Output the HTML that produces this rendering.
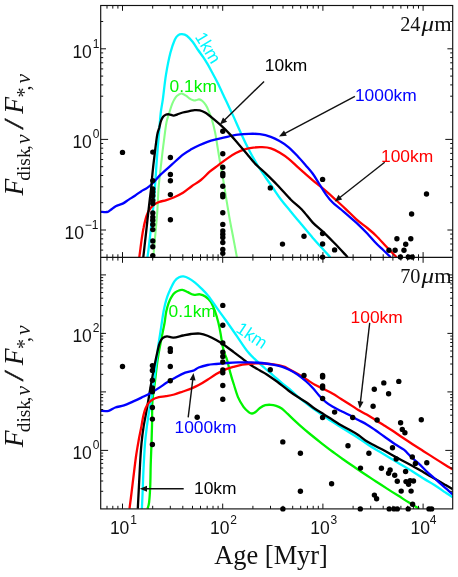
<!DOCTYPE html>
<html><head><meta charset="utf-8"><title>Flux ratio vs age</title>
<style>.sa{font-family:"Liberation Sans",sans-serif}.se{font-family:"Liberation Serif",serif}html,body{margin:0;padding:0;background:#fff;}body{width:458px;height:577px;position:relative;overflow:hidden;font-family:"Liberation Sans",sans-serif;}</style>
</head><body>
<svg width="458" height="577" viewBox="0 0 458 577" style="position:absolute;left:0;top:0;will-change:transform">
<defs><clipPath id="ct"><rect x="100.7" y="5.5" width="352" height="251.9"/></clipPath>
<clipPath id="cb"><rect x="100.7" y="257.4" width="352" height="251.5"/></clipPath></defs>
<rect x="0" y="0" width="458" height="577" fill="#fff"/>
<g clip-path="url(#ct)">
<path d="M153.3,257.2C153.7,253.1 154.8,240 155.5,232.4C156.2,224.8 156.8,218.7 157.3,211.4C157.8,204.1 158.1,194.9 158.5,188.7C158.9,182.5 159.4,179.9 160,174.2C160.6,168.5 161.5,160.8 162.2,154.6C162.9,148.4 163.7,142.6 164.4,137.1C165.1,131.6 165.8,125.8 166.6,121.8C167.4,117.8 168.4,115.8 169.3,112.8C170.2,109.8 171.2,106.2 172.3,103.6C173.4,101 174.7,98.7 175.8,97.2C176.9,95.7 178,95.1 179,94.5C180,93.9 180.8,93.4 182,93.6C183.2,93.8 184.8,94.9 186,95.7C187.2,96.5 188.1,97.5 189.3,98.3C190.5,99.1 192.2,100 193.3,100.3C194.4,100.6 194.9,100.4 195.9,100.3C196.9,100.2 198,99.3 199.1,99.4C200.2,99.5 201.3,100.1 202.4,101C203.5,101.9 204.7,103.4 205.7,104.9C206.7,106.4 207.3,107.7 208.3,110.1C209.3,112.5 210.7,115.6 211.8,119.3C212.9,123 214.2,128 215.1,132.4C216,136.8 216.6,141.1 217.3,145.5C218,149.9 218.6,153.7 219.5,159C220.4,164.3 221.7,171.2 222.8,177.5C223.9,183.8 224.9,190.5 226,197.1C227.1,203.7 228.2,210.6 229.3,216.8C230.4,223 231.3,227.6 232.6,234.3C233.9,241 236.2,253.4 236.9,257.2" fill="none" stroke="#86ff86" stroke-width="2.1" stroke-linejoin="round" />
<path d="M147.5,257.2C147.7,255.4 148.4,250.8 148.9,246.4C149.4,242 150.1,235.9 150.7,230.7C151.3,225.5 151.8,220.2 152.4,215C153,209.8 153.6,205.6 154.1,199.2C154.6,192.8 155.2,183.8 155.7,176.4C156.2,169 156.6,161.9 157.2,154.6C157.8,147.3 158.4,139.7 159,132.8C159.6,125.9 160.1,118.6 160.7,113.1C161.3,107.6 161.9,106.1 162.8,99.7C163.7,93.3 164.7,82.4 166,74.6C167.3,66.8 168.9,58.6 170.4,52.8C171.9,47 173.5,42.6 174.8,39.7C176.1,36.8 176.8,36.2 178,35.3C179.2,34.4 180.5,34.1 182,34.2C183.5,34.3 185,34.4 186.8,35.7C188.6,37 190.7,39.4 192.6,41.8C194.5,44.2 196.3,47.4 198.1,50C199.9,52.6 201.6,54.8 203.2,57.2C204.8,59.6 206,61.5 207.6,64.2C209.2,66.9 210.9,70.2 212.6,73.3C214.3,76.4 215.7,78.9 217.6,82.8C219.5,86.7 221.9,91.9 224,96.4C226.1,100.9 228.8,106.5 230.4,110C232,113.5 232,113.1 233.8,117.1C235.6,121.1 238.8,128.5 241.3,134C243.8,139.5 246.3,144.8 249,150C251.7,155.2 255,161 257.7,165.5C260.4,170 262.8,173.2 265.3,177C267.9,180.8 270.3,184.1 273,188C275.7,191.9 278.7,196.6 281.7,200.5C284.7,204.4 287.5,207.6 290.9,211.7C294.2,215.8 298.1,220.4 301.8,224.8C305.5,229.2 309.2,233.7 312.8,237.9C316.4,242.1 320.8,246.7 323.7,249.9C326.6,253.1 329.1,256 330.2,257.2" fill="none" stroke="#00f6ff" stroke-width="2.3" stroke-linejoin="round" />
<path d="M139.3,257.2C139.5,255.7 140.1,251.4 140.5,248.1C140.9,244.8 141.4,241.1 141.9,237.6C142.4,234.1 143,230.4 143.7,227.2C144.3,224 145.1,220.9 145.8,218.4C146.5,215.9 147.2,214 148,212.3C148.8,210.6 149.7,209.3 150.7,208C151.7,206.7 152.6,205.5 154.1,204.5C155.6,203.5 157.3,202.5 159.4,201.8C161.5,201.1 163.9,200.9 166.4,200.1C168.9,199.3 171.4,198.4 174.2,197.2C177,196 180.1,194.6 183,192.8C185.9,191 188.7,188.3 191.7,186.2C194.7,184.1 197.9,182.4 200.9,180C203.9,177.6 206.8,174.2 209.7,171.7C212.6,169.2 215.5,167.4 218.4,165.2C221.3,163 224.2,160.6 227.1,158.6C230,156.6 233,154.6 235.9,153.1C238.8,151.6 241.7,150.3 244.6,149.4C247.5,148.5 250.4,148 253.3,147.6C256.2,147.2 259.2,147.1 262.1,147.2C265,147.3 267.9,147.4 270.8,148.3C273.7,149.2 276.5,150.8 279.5,152.6C282.5,154.4 285.7,156.5 288.7,158.9C291.7,161.3 294.6,164.3 297.5,166.9C300.4,169.5 303.3,172.1 306.2,174.6C309.1,177.1 312,179.8 314.9,182.2C317.8,184.6 320.4,186.4 323.7,189.2C327,192 331,195.5 334.6,198.8C338.2,202.1 341.9,205.4 345.5,208.8C349.1,212.2 352.8,216.1 356.4,219.3C360,222.5 364,225.3 367.3,228C370.6,230.7 373,232.6 376.1,235.7C379.2,238.8 382.8,242.9 386.2,246.5C389.6,250.1 394.8,255.4 396.5,257.2" fill="none" stroke="#ff0000" stroke-width="2.3" stroke-linejoin="round" />
<path d="M100.6,211.8C101.7,211.8 105.3,212.3 107,212C108.7,211.7 109,211 110.5,210C112,209 113.7,207.3 115.7,206.2C117.7,205.1 120.5,204.7 122.7,203.6C124.9,202.5 126.8,200.9 128.8,199.6C130.8,198.3 132.9,197.1 134.9,195.7C136.9,194.3 138.9,192.7 141,191.4C143.1,190.1 145.3,189.2 147.2,187.9C149.1,186.6 150.1,185.8 152.4,183.5C154.7,181.2 157.8,177.4 161.1,174.2C164.4,171 168.3,167.7 172,164.4C175.7,161.1 179.7,157.2 183,154.6C186.3,152 189.1,150.6 191.7,149.1C194.3,147.6 196.1,146.7 198.7,145.5C201.3,144.3 204.6,142.8 207.5,141.8C210.4,140.8 212.9,140.2 216.2,139.4C219.5,138.6 223.5,137.6 227.1,136.8C230.7,136 234.3,135.2 238,134.7C241.7,134.2 245.3,133.9 249,133.8C252.7,133.7 256.3,133.6 259.9,134.1C263.5,134.6 267.5,135.6 270.8,136.8C274.1,138 276.5,139.3 279.5,141.1C282.5,142.8 285.7,144.8 288.7,147.3C291.7,149.8 294.6,152.9 297.5,156C300.4,159.1 303.6,162.9 306.2,165.9C308.8,168.9 310.6,170.8 312.8,173.8C315,176.8 317.1,180.6 319.3,184C321.5,187.4 323.7,191.2 325.9,194.3C328.1,197.4 329.9,199.8 332.4,202.3C334.9,204.8 338.2,207 341.1,209.5C344,212 347,214.5 349.9,217.1C352.8,219.7 355.7,222.1 358.6,224.8C361.5,227.5 364.4,230.4 367.3,233.5C370.2,236.6 373.5,240.6 376.1,243.3C378.8,246.1 380.8,247.7 383.2,250C385.6,252.3 389.4,256 390.6,257.2" fill="none" stroke="#0000ff" stroke-width="2.3" stroke-linejoin="round" />
<path d="M143.3,257.2C143.5,255.4 144,250.8 144.5,246.4C145,242 145.7,235.9 146.3,230.7C146.9,225.4 147.4,220.2 148,214.9C148.6,209.7 149.2,204.1 149.8,199.2C150.4,194.2 151.1,189.4 151.5,185.2C151.9,181 151.9,179.3 152.4,174.2C152.9,169.1 153.8,161.1 154.6,154.6C155.4,148.1 156.4,139.3 157.2,134.9C158,130.5 158.5,130.4 159.2,128C159.8,125.6 160.4,122.5 161.1,120.6C161.8,118.7 162.3,117.7 163.1,116.7C163.9,115.7 164.7,115.1 165.7,114.7C166.7,114.3 167.7,114.2 169,114.3C170.3,114.4 172.2,115.6 173.6,115.6C175,115.6 176,114.8 177.5,114.3C179,113.8 180.8,113 182.8,112.5C184.8,112 187.3,111.6 189.3,111.2C191.3,110.8 192.8,110.2 194.6,110.1C196.3,110 198.1,110 199.8,110.4C201.5,110.8 202.9,111.3 205,112.5C207.1,113.7 209.5,115.6 212.2,117.8C214.9,120 218.1,122.7 221,125.4C223.9,128.1 226.9,131 229.8,134.1C232.7,137.2 235.5,140.6 238.4,143.9C241.3,147.2 244.2,150.6 247,154C249.8,157.4 252.6,161.1 255.5,164.1C258.4,167.1 260.6,168.5 264.2,172C267.8,175.5 272.9,180.4 277.3,185C281.8,189.6 286.8,195.6 290.9,199.7C295,203.8 298.1,205.7 301.8,209.5C305.5,213.3 309.2,218.8 312.8,222.6C316.4,226.4 320.1,228.9 323.7,232.4C327.3,235.9 330.6,239.2 334.6,243.3C338.6,247.4 345.5,254.9 347.7,257.2" fill="none" stroke="#000" stroke-width="2.3" stroke-linejoin="round" />
</g>
<g clip-path="url(#cb)">
<path d="M147.6,508.7C147.8,507.6 148.7,505.9 149.1,502.3C149.5,498.7 149.9,493.2 150.2,487C150.5,480.8 150.5,472.5 150.7,465.2C150.9,457.9 151.3,449.9 151.5,443.4C151.7,436.8 151.8,432.8 152,425.9C152.2,419 152,408.9 152.4,402C152.8,395.1 153.8,391.1 154.6,384.6C155.4,378.1 156.3,369.4 157.2,362.8C158.1,356.2 159.3,349.9 160.2,345C161.1,340.1 161.7,337.4 162.4,333.7C163.1,330 164,326.4 164.6,322.8C165.2,319.2 165.5,315.1 166.2,311.8C166.9,308.5 167.7,305.6 168.6,303.1C169.5,300.6 170.6,298.3 171.7,296.6C172.8,294.9 173.8,293.7 174.9,292.7C176,291.7 176.9,291.2 178.2,290.7C179.4,290.2 180.8,289.7 182.4,289.9C184,290.1 186.1,291.3 187.9,292.1C189.7,292.9 191.3,294.3 193.3,294.7C195.3,295.1 197.9,294 199.9,294.3C201.9,294.6 203.5,295.2 205.3,296.5C207.1,297.8 209.2,299.3 210.8,301.9C212.5,304.4 213.9,308.3 215.2,311.8C216.5,315.3 217.5,319.1 218.4,322.7C219.3,326.3 219.9,329.6 220.6,333.6C221.3,337.6 222.1,343.3 222.8,346.7C223.5,350.1 224.2,352 224.9,354.2C225.6,356.4 226.2,356.9 227.1,360C228,363.1 229.3,369.1 230.4,373.1C231.5,377.1 232.4,380 233.7,384C235,388 236.4,393.3 238,397.1C239.6,400.9 241.7,404.3 243.5,406.9C245.3,409.4 247.6,411.3 249,412.4C250.4,413.5 251.1,413.6 252.2,413.5C253.3,413.4 254.2,412.9 255.5,412C256.8,411.1 258.3,409.1 259.9,408C261.5,406.9 263.5,405.7 265.3,405.2C267.1,404.7 269,404.7 270.8,404.8C272.6,404.9 274.4,405.3 276.2,405.9C278,406.5 279.7,407.1 281.7,408.5C283.7,409.9 285.1,411.5 288,414.2C290.9,416.9 295.3,421.3 299,424.6C302.7,427.9 306.3,431 310,434C313.7,437 317.3,439.9 321,442.8C324.7,445.7 328.3,448.5 332,451.2C335.7,453.9 339.3,456.6 343,459.2C346.7,461.8 350.3,464.3 354,466.8C357.7,469.3 361.3,471.8 365,474.2C368.7,476.6 372.3,479.1 376,481.5C379.7,483.9 383.3,486.2 387,488.6C390.7,491 394.3,493.3 398,495.6C401.7,497.9 405.4,500.4 409,502.6C412.6,504.8 417.7,507.9 419.4,509" fill="none" stroke="#00f400" stroke-width="2.3" stroke-linejoin="round" />
<path d="M141.9,508.7C142.1,505.1 142.5,494.2 142.8,487C143.1,479.8 143.3,472.5 143.7,465.2C144.1,457.9 144.5,449.6 145,443.4C145.5,437.2 146.1,432.7 146.7,428C147.3,423.3 147.9,418.8 148.5,415C149.1,411.2 149.4,410.1 150.2,405C151,399.9 152.5,391.6 153.5,384.6C154.5,377.6 155.5,369.4 156.3,362.8C157.1,356.2 157.5,351.3 158.4,345C159.3,338.7 160.7,330.4 161.5,324.9C162.3,319.4 162.9,315.2 163.5,311.8C164.1,308.4 164.5,306.7 165.1,304.2C165.7,301.7 166.5,299 167.3,296.6C168.1,294.2 168.9,292.5 170.1,289.9C171.3,287.3 173.1,283.3 174.6,281.2C176.1,279.1 177.6,278.1 179.1,277.3C180.6,276.5 181.8,276.2 183.5,276.4C185.2,276.6 187.1,277.4 189,278.4C190.9,279.4 192.9,280.9 195,282.6C197.1,284.3 199.3,286.4 201.5,288.6C203.7,290.8 205.5,292.5 208.1,295.7C210.7,298.9 213.9,303.8 216.8,307.9C219.7,311.9 222.2,315.2 225.6,320C229,324.8 233.5,331.2 237.2,336.6C240.9,342 244.5,347.8 248,352.1C251.5,356.4 255.5,359.8 258.3,362.4C261.1,365 262.2,365.9 264.6,368C267.1,370.1 270.1,372.8 273,375.3C275.9,377.8 278.9,380.5 281.7,382.9C284.5,385.3 287.4,387.3 290,389.5C292.6,391.7 294.8,394 297.5,396.3C300.2,398.6 303.3,401 306.2,403.3C309.1,405.6 312,407.8 314.9,409.9C317.8,412 320.8,414 323.7,416C326.6,418 329.5,420 332.4,421.9C335.3,423.8 338.2,425.5 341.1,427.3C344,429.1 347,431 349.9,432.8C352.8,434.6 355.4,436.1 358.6,438.2C361.8,440.3 365.4,443 368.9,445.3C372.4,447.6 376.1,449.6 379.8,451.8C383.5,454 387.2,456.2 390.8,458.4C394.4,460.6 398.1,462.7 401.7,464.9C405.3,467.1 409,469.2 412.6,471.5C416.2,473.8 419.9,476.2 423.5,478.5C427.1,480.8 430.8,482.7 434.4,485C438,487.3 442.2,490.3 445.3,492.4C448.4,494.4 451.6,496.5 452.8,497.3" fill="none" stroke="#00f6ff" stroke-width="2.3" stroke-linejoin="round" />
<path d="M137.8,508.7C138,505.1 138.5,494.2 138.9,487C139.3,479.8 139.6,472.5 140,465.2C140.4,457.9 140.9,449.9 141.5,443.4C142.1,436.8 142.8,431.7 143.7,425.9C144.6,420.1 145.8,415.1 146.9,408.6C148.1,402.1 149.4,393.7 150.6,386.8C151.8,379.9 153,373.3 154.2,367.1C155.4,360.9 157,353.8 157.9,349.7C158.8,345.6 159,344.5 159.8,342.6C160.6,340.7 161.4,339.1 162.6,338.1C163.8,337.1 165.2,336.5 167,336.4C168.8,336.3 170.8,337.8 173.5,337.6C176.2,337.5 180.1,336.1 183,335.5C185.9,334.9 188.3,334.3 191.1,334C193.9,333.7 197.2,333.3 199.9,333.6C202.6,333.9 204.8,334.6 207.5,335.7C210.2,336.8 213.3,338.4 216.2,340C219.1,341.6 222,343.5 224.9,345.5C227.8,347.5 230.8,349.9 233.7,352.1C236.6,354.3 239.5,356.4 242.4,358.6C245.3,360.8 248.2,363.2 251.1,365.2C254,367.2 257.3,369 259.9,370.5C262.4,372 263.5,372.3 266.4,374.2C269.3,376.1 273.6,379.1 277.3,381.8C281,384.6 285.3,388.2 288.7,390.7C292.1,393.2 294.6,394.9 297.5,396.8C300.4,398.7 303.3,400.2 306.2,402.2C309.1,404.2 312,406.8 314.9,408.8C317.8,410.8 320.8,412.4 323.7,414.2C326.6,416 329.5,417.9 332.4,419.7C335.3,421.5 338.2,423.5 341.1,425.2C344,426.9 347,428.4 349.9,430C352.8,431.6 355.5,433.1 358.3,435C361.1,436.9 363.8,439.5 366.7,441.3C369.6,443.1 372.6,444.4 375.5,446C378.4,447.6 381.3,449 384.2,450.6C387.1,452.2 390.1,454 393,455.6C395.9,457.2 398.4,458.5 401.7,460.2C405,461.9 409,464 412.6,466C416.2,468 419.9,470.2 423.5,472.3C427.1,474.4 430.8,476.5 434.4,478.6C438,480.7 442.2,483.1 445.3,484.9C448.4,486.7 451.6,488.5 452.8,489.2" fill="none" stroke="#000" stroke-width="2.3" stroke-linejoin="round" />
<path d="M129.5,508.7C129.9,505.8 131,497.2 131.7,491.4C132.4,485.6 133.1,479.8 133.8,474C134.5,468.2 135.2,462.3 136,456.5C136.8,450.7 138,444.1 138.9,439C139.8,433.9 140.8,429.8 141.5,425.9C142.2,422 142.7,418.4 143.4,415.5C144.1,412.6 144.7,410.5 145.5,408.5C146.3,406.5 147.1,404.9 148.3,403.4C149.5,401.9 150.9,400.5 152.7,399.5C154.4,398.5 156.6,397.8 158.8,397.2C161,396.6 163.4,396.6 166,396.1C168.6,395.7 171.4,395.3 174.2,394.5C177,393.7 180.1,392.5 183,391.5C185.9,390.5 189.1,389.5 191.7,388.4C194.3,387.3 196.1,386.5 198.7,385.1C201.3,383.7 204.6,381.7 207.5,379.8C210.4,377.9 213.3,375.7 216.2,374C219.1,372.3 222,370.8 224.9,369.6C227.8,368.4 230.8,367.6 233.7,366.8C236.6,366 239.1,365.2 242.4,364.6C245.7,364.1 249.7,363.7 253.3,363.5C256.9,363.3 260.6,363.3 264.2,363.5C267.8,363.7 271.9,364.1 275.2,364.6C278.5,365.1 281.6,365.9 283.9,366.6C286.1,367.3 286.4,367.8 288.7,369C291,370.2 294.6,372.1 297.5,373.8C300.4,375.5 303.3,377.5 306.2,379.3C309.1,381.1 312,383.2 314.9,384.8C317.8,386.4 320.8,387.7 323.7,389.1C326.6,390.6 329.5,391.9 332.4,393.5C335.3,395.1 338.2,397.2 341.1,399C344,400.8 347,402.6 349.9,404.4C352.8,406.2 355.5,408.3 358.3,410C361.1,411.7 363.8,412.9 366.7,414.6C369.6,416.3 372.6,418.2 375.5,420C378.4,421.8 381.3,423.7 384.2,425.5C387.1,427.3 390.1,429.1 393,431C395.9,432.9 398.4,434.8 401.7,437C405,439.2 409,441.9 412.6,444.3C416.2,446.7 419.9,448.9 423.5,451.2C427.1,453.5 430.8,455.8 434.4,458.1C438,460.4 442.2,463 445.3,464.9C448.4,466.8 451.6,468.6 452.8,469.3" fill="none" stroke="#ff0000" stroke-width="2.3" stroke-linejoin="round" />
<path d="M100.6,410.8C101.9,410.8 106.2,411.4 108.7,410.8C111.2,410.2 112.8,408.4 115.3,407.5C117.8,406.6 121.1,406.4 124,405.4C126.9,404.4 129.9,402.9 132.8,401.6C135.7,400.3 138.6,399 141.5,397.6C144.4,396.2 147.3,394.9 150.2,393.3C153.1,391.7 156.1,389.8 159,387.9C161.9,386 164.8,383.8 167.7,382C170.6,380.2 173.5,378.5 176.4,376.9C179.3,375.3 182.3,373.7 185.2,372.6C188.1,371.5 191.7,371.2 193.9,370.4C196.2,369.5 196.4,368.4 198.7,367.5C201,366.6 204.6,365.6 207.5,365C210.4,364.4 212.9,364.3 216.2,364C219.5,363.7 223.5,363.3 227.1,363C230.7,362.7 234,362.5 238,362.4C242,362.3 247.1,362.3 251.1,362.4C255.1,362.5 258.5,362.6 262.1,363C265.8,363.4 269.7,364 273,364.6C276.3,365.2 279.1,365.8 281.7,366.6C284.3,367.4 286.1,368.2 288.7,369.5C291.3,370.8 294.6,372.5 297.5,374.5C300.4,376.5 303.6,379.2 306.2,381.5C308.8,383.8 310.6,385.6 312.8,388C315,390.4 317.1,393.3 319.3,395.7C321.5,398.1 323.7,400.4 325.9,402.2C328.1,404 329.9,405.1 332.4,406.6C334.9,408.1 338.2,409.6 341.1,411C344,412.4 347,413.8 349.9,415.3C352.8,416.8 355.5,418.5 358.3,420C361.1,421.5 363.8,422.7 366.7,424.4C369.6,426.1 372.6,428.3 375.5,430.3C378.4,432.3 380.9,434.2 384.2,436.5C387.5,438.8 391.8,442 395.1,444.2C398.4,446.4 401.3,447.7 403.9,449.7C406.4,451.7 407.9,453.8 410.4,456.2C412.9,458.6 416.2,461.1 419.1,463.8C422,466.5 425,469.9 427.9,472.6C430.8,475.3 433.7,477.6 436.6,480.2C439.5,482.8 442.6,485.5 445.3,487.9C448,490.3 451.6,493.3 452.8,494.4" fill="none" stroke="#0000ff" stroke-width="2.3" stroke-linejoin="round" />
</g>
<g stroke="#111" stroke-width="1.15" fill="none">
<rect x="100.7" y="5.5" width="352" height="503.4"/>
<line x1="100.7" y1="257.4" x2="452.7" y2="257.4"/>
</g>
<path d="M107,5.5L107,8.6M107,254.3L107,260.6M107,505.8L107,508.9M112.8,5.5L112.8,8.6M112.8,254.3L112.8,260.6M112.8,505.8L112.8,508.9M117.9,5.5L117.9,8.6M117.9,254.3L117.9,260.6M117.9,505.8L117.9,508.9M122.5,5.5L122.5,10.8M122.5,252.1L122.5,262.8M122.5,503.6L122.5,508.9M152.7,5.5L152.7,8.6M152.7,254.3L152.7,260.6M152.7,505.8L152.7,508.9M170.3,5.5L170.3,8.6M170.3,254.3L170.3,260.6M170.3,505.8L170.3,508.9M182.8,5.5L182.8,8.6M182.8,254.3L182.8,260.6M182.8,505.8L182.8,508.9M192.5,5.5L192.5,8.6M192.5,254.3L192.5,260.6M192.5,505.8L192.5,508.9M200.5,5.5L200.5,8.6M200.5,254.3L200.5,260.6M200.5,505.8L200.5,508.9M207.2,5.5L207.2,8.6M207.2,254.3L207.2,260.6M207.2,505.8L207.2,508.9M213,5.5L213,8.6M213,254.3L213,260.6M213,505.8L213,508.9M218.1,5.5L218.1,8.6M218.1,254.3L218.1,260.6M218.1,505.8L218.1,508.9M222.7,5.5L222.7,10.8M222.7,252.1L222.7,262.8M222.7,503.6L222.7,508.9M252.9,5.5L252.9,8.6M252.9,254.3L252.9,260.6M252.9,505.8L252.9,508.9M270.5,5.5L270.5,8.6M270.5,254.3L270.5,260.6M270.5,505.8L270.5,508.9M283,5.5L283,8.6M283,254.3L283,260.6M283,505.8L283,508.9M292.7,5.5L292.7,8.6M292.7,254.3L292.7,260.6M292.7,505.8L292.7,508.9M300.7,5.5L300.7,8.6M300.7,254.3L300.7,260.6M300.7,505.8L300.7,508.9M307.4,5.5L307.4,8.6M307.4,254.3L307.4,260.6M307.4,505.8L307.4,508.9M313.2,5.5L313.2,8.6M313.2,254.3L313.2,260.6M313.2,505.8L313.2,508.9M318.3,5.5L318.3,8.6M318.3,254.3L318.3,260.6M318.3,505.8L318.3,508.9M322.9,5.5L322.9,10.8M322.9,252.1L322.9,262.8M322.9,503.6L322.9,508.9M353.1,5.5L353.1,8.6M353.1,254.3L353.1,260.6M353.1,505.8L353.1,508.9M370.7,5.5L370.7,8.6M370.7,254.3L370.7,260.6M370.7,505.8L370.7,508.9M383.2,5.5L383.2,8.6M383.2,254.3L383.2,260.6M383.2,505.8L383.2,508.9M392.9,5.5L392.9,8.6M392.9,254.3L392.9,260.6M392.9,505.8L392.9,508.9M400.9,5.5L400.9,8.6M400.9,254.3L400.9,260.6M400.9,505.8L400.9,508.9M407.6,5.5L407.6,8.6M407.6,254.3L407.6,260.6M407.6,505.8L407.6,508.9M413.4,5.5L413.4,8.6M413.4,254.3L413.4,260.6M413.4,505.8L413.4,508.9M418.5,5.5L418.5,8.6M418.5,254.3L418.5,260.6M418.5,505.8L418.5,508.9M423.1,5.5L423.1,10.8M423.1,252.1L423.1,262.8M423.1,503.6L423.1,508.9M100.7,250.1L103.2,250.1M450.2,250.1L452.7,250.1M100.7,244L103.2,244M450.2,244L452.7,244M100.7,238.8L103.2,238.8M450.2,238.8L452.7,238.8M100.7,234.1L103.2,234.1M450.2,234.1L452.7,234.1M100.7,230L106,230M447.4,230L452.7,230M100.7,202.7L103.2,202.7M450.2,202.7L452.7,202.7M100.7,186.8L103.2,186.8M450.2,186.8L452.7,186.8M100.7,175.5L103.2,175.5M450.2,175.5L452.7,175.5M100.7,166.7L103.2,166.7M450.2,166.7L452.7,166.7M100.7,159.5L103.2,159.5M450.2,159.5L452.7,159.5M100.7,153.4L103.2,153.4M450.2,153.4L452.7,153.4M100.7,148.2L103.2,148.2M450.2,148.2L452.7,148.2M100.7,143.5L103.2,143.5M450.2,143.5L452.7,143.5M100.7,139.4L108.1,139.4M445.3,139.4L452.7,139.4M100.7,112.1L103.2,112.1M450.2,112.1L452.7,112.1M100.7,96.2L103.2,96.2M450.2,96.2L452.7,96.2M100.7,84.9L103.2,84.9M450.2,84.9L452.7,84.9M100.7,76.1L103.2,76.1M450.2,76.1L452.7,76.1M100.7,68.9L103.2,68.9M450.2,68.9L452.7,68.9M100.7,62.8L103.2,62.8M450.2,62.8L452.7,62.8M100.7,57.6L103.2,57.6M450.2,57.6L452.7,57.6M100.7,52.9L103.2,52.9M450.2,52.9L452.7,52.9M100.7,48.8L106,48.8M447.4,48.8L452.7,48.8M100.7,21.5L103.2,21.5M450.2,21.5L452.7,21.5M100.7,491.3L103.2,491.3M450.2,491.3L452.7,491.3M100.7,481L103.2,481M450.2,481L452.7,481M100.7,473.7L103.2,473.7M450.2,473.7L452.7,473.7M100.7,468L103.2,468M450.2,468L452.7,468M100.7,463.4L103.2,463.4M450.2,463.4L452.7,463.4M100.7,459.5L103.2,459.5M450.2,459.5L452.7,459.5M100.7,456.1L103.2,456.1M450.2,456.1L452.7,456.1M100.7,453.1L103.2,453.1M450.2,453.1L452.7,453.1M100.7,450.4L108.1,450.4M445.3,450.4L452.7,450.4M100.7,432.8L103.2,432.8M450.2,432.8L452.7,432.8M100.7,422.5L103.2,422.5M450.2,422.5L452.7,422.5M100.7,415.2L103.2,415.2M450.2,415.2L452.7,415.2M100.7,409.5L103.2,409.5M450.2,409.5L452.7,409.5M100.7,404.9L103.2,404.9M450.2,404.9L452.7,404.9M100.7,401L103.2,401M450.2,401L452.7,401M100.7,397.6L103.2,397.6M450.2,397.6L452.7,397.6M100.7,394.6L103.2,394.6M450.2,394.6L452.7,394.6M100.7,391.9L106,391.9M447.4,391.9L452.7,391.9M100.7,374.3L103.2,374.3M450.2,374.3L452.7,374.3M100.7,364L103.2,364M450.2,364L452.7,364M100.7,356.7L103.2,356.7M450.2,356.7L452.7,356.7M100.7,351L103.2,351M450.2,351L452.7,351M100.7,346.4L103.2,346.4M450.2,346.4L452.7,346.4M100.7,342.5L103.2,342.5M450.2,342.5L452.7,342.5M100.7,339.1L103.2,339.1M450.2,339.1L452.7,339.1M100.7,336.1L103.2,336.1M450.2,336.1L452.7,336.1M100.7,333.4L106,333.4M447.4,333.4L452.7,333.4M100.7,315.8L103.2,315.8M450.2,315.8L452.7,315.8M100.7,305.5L103.2,305.5M450.2,305.5L452.7,305.5M100.7,298.2L103.2,298.2M450.2,298.2L452.7,298.2M100.7,292.5L103.2,292.5M450.2,292.5L452.7,292.5M100.7,287.9L103.2,287.9M450.2,287.9L452.7,287.9M100.7,284L103.2,284M450.2,284L452.7,284M100.7,280.6L103.2,280.6M450.2,280.6L452.7,280.6M100.7,277.6L103.2,277.6M450.2,277.6L452.7,277.6M100.7,274.9L106,274.9M447.4,274.9L452.7,274.9" stroke="#111" stroke-width="1" fill="none"/>
<line x1="264.1" y1="81.4" x2="224.3" y2="120.3" stroke="#111" stroke-width="1.4"/><path d="M219.9,124.6 L223,117.4 L227.1,121.7 Z" fill="#111"/>
<line x1="354.9" y1="96.4" x2="284.5" y2="133.6" stroke="#111" stroke-width="1.4"/><path d="M279,136.5 L284,130.5 L286.8,135.8 Z" fill="#111"/>
<line x1="384.7" y1="162.3" x2="339.6" y2="197.7" stroke="#111" stroke-width="1.4"/><path d="M334.7,201.5 L338.5,194.7 L342.2,199.4 Z" fill="#111"/>
<line x1="369.7" y1="322.9" x2="360.4" y2="402.3" stroke="#111" stroke-width="1.4"/><path d="M359.7,408.5 L357.6,401 L363.5,401.7 Z" fill="#111"/>
<line x1="188.2" y1="417.3" x2="192.8" y2="379.3" stroke="#111" stroke-width="1.4"/><path d="M193.5,373.1 L195.6,380.6 L189.7,379.9 Z" fill="#111"/>
<line x1="183.7" y1="488.7" x2="146" y2="488.7" stroke="#111" stroke-width="1.4"/><path d="M139.8,488.7 L147,485.7 L147,491.7 Z" fill="#111"/>
<g fill="#000">
<circle cx="122.5" cy="152.4" r="2.7"/>
<circle cx="152.8" cy="152.1" r="2.7"/>
<circle cx="152.8" cy="180.6" r="2.7"/>
<circle cx="152.8" cy="189" r="2.7"/>
<circle cx="152.8" cy="192.1" r="2.7"/>
<circle cx="152.8" cy="195.8" r="2.7"/>
<circle cx="152.8" cy="200.4" r="2.7"/>
<circle cx="152.8" cy="203.5" r="2.7"/>
<circle cx="152.8" cy="212.9" r="2.7"/>
<circle cx="152.8" cy="217.1" r="2.7"/>
<circle cx="152.8" cy="220.2" r="2.7"/>
<circle cx="152.8" cy="224.4" r="2.7"/>
<circle cx="152.8" cy="229.6" r="2.7"/>
<circle cx="152.8" cy="241" r="2.7"/>
<circle cx="152.8" cy="246.7" r="2.7"/>
<circle cx="152.8" cy="255.6" r="2.7"/>
<circle cx="170.4" cy="157.5" r="2.7"/>
<circle cx="170.4" cy="174.5" r="2.7"/>
<circle cx="170.4" cy="180.7" r="2.7"/>
<circle cx="170.4" cy="194.6" r="2.7"/>
<circle cx="170.4" cy="219.7" r="2.7"/>
<circle cx="222.8" cy="131.3" r="2.7"/>
<circle cx="222.8" cy="153.8" r="2.7"/>
<circle cx="222.8" cy="167.2" r="2.7"/>
<circle cx="222.8" cy="173.5" r="2.7"/>
<circle cx="222.8" cy="175.7" r="2.7"/>
<circle cx="222.8" cy="186.2" r="2.7"/>
<circle cx="222.8" cy="194.5" r="2.7"/>
<circle cx="222.8" cy="196.7" r="2.7"/>
<circle cx="222.8" cy="212.8" r="2.7"/>
<circle cx="222.8" cy="224.4" r="2.7"/>
<circle cx="222.8" cy="231" r="2.7"/>
<circle cx="222.8" cy="234.2" r="2.7"/>
<circle cx="222.8" cy="237.5" r="2.7"/>
<circle cx="222.8" cy="242.5" r="2.7"/>
<circle cx="222.8" cy="249.5" r="2.7"/>
<circle cx="222.8" cy="253.4" r="2.7"/>
<circle cx="270.3" cy="187.9" r="2.7"/>
<circle cx="282.5" cy="244.1" r="2.7"/>
<circle cx="304" cy="236.3" r="2.7"/>
<circle cx="322.6" cy="179.4" r="2.7"/>
<circle cx="322.6" cy="233.5" r="2.7"/>
<circle cx="322.6" cy="244" r="2.7"/>
<circle cx="322.6" cy="257.1" r="2.7"/>
<circle cx="334.6" cy="249.9" r="2.7"/>
<circle cx="426.5" cy="194" r="2.7"/>
<circle cx="411.6" cy="214" r="2.7"/>
<circle cx="396.9" cy="238.8" r="2.7"/>
<circle cx="410.8" cy="238.8" r="2.7"/>
<circle cx="405.7" cy="244.3" r="2.7"/>
<circle cx="389" cy="250.2" r="2.7"/>
<circle cx="395.1" cy="250.2" r="2.7"/>
<circle cx="404" cy="250.2" r="2.7"/>
<circle cx="400.4" cy="257" r="2.7"/>
<circle cx="408.3" cy="257" r="2.7"/>
<circle cx="412.2" cy="257" r="2.7"/>
<circle cx="122.5" cy="366.5" r="2.7"/>
<circle cx="152.4" cy="365.6" r="2.7"/>
<circle cx="152.4" cy="370.4" r="2.7"/>
<circle cx="152.4" cy="380.2" r="2.7"/>
<circle cx="152.4" cy="387.9" r="2.7"/>
<circle cx="152.4" cy="391.8" r="2.7"/>
<circle cx="152.4" cy="407.5" r="2.7"/>
<circle cx="152.4" cy="419.1" r="2.7"/>
<circle cx="152.4" cy="444.5" r="2.7"/>
<circle cx="170.3" cy="348.6" r="2.7"/>
<circle cx="170.3" cy="351.4" r="2.7"/>
<circle cx="170.3" cy="366.5" r="2.7"/>
<circle cx="170.3" cy="380.7" r="2.7"/>
<circle cx="197.2" cy="417.3" r="2.7"/>
<circle cx="222.8" cy="305.4" r="2.7"/>
<circle cx="222.8" cy="325.2" r="2.7"/>
<circle cx="222.8" cy="342.9" r="2.7"/>
<circle cx="222.8" cy="352.1" r="2.7"/>
<circle cx="222.8" cy="356.4" r="2.7"/>
<circle cx="222.8" cy="362" r="2.7"/>
<circle cx="222.8" cy="370" r="2.7"/>
<circle cx="222.8" cy="372.8" r="2.7"/>
<circle cx="222.8" cy="385.5" r="2.7"/>
<circle cx="222.8" cy="399.3" r="2.7"/>
<circle cx="270.3" cy="369.7" r="2.7"/>
<circle cx="282.8" cy="441.9" r="2.7"/>
<circle cx="282.9" cy="508.9" r="2.7"/>
<circle cx="300.4" cy="453.2" r="2.7"/>
<circle cx="300.4" cy="491.2" r="2.7"/>
<circle cx="304" cy="375.4" r="2.7"/>
<circle cx="322.6" cy="375.4" r="2.7"/>
<circle cx="322.6" cy="377" r="2.7"/>
<circle cx="322.6" cy="385.9" r="2.7"/>
<circle cx="322.6" cy="388" r="2.7"/>
<circle cx="322.6" cy="398.5" r="2.7"/>
<circle cx="322.6" cy="417.5" r="2.7"/>
<circle cx="334.6" cy="412.1" r="2.7"/>
<circle cx="331.6" cy="483.8" r="2.7"/>
<circle cx="348" cy="445.8" r="2.7"/>
<circle cx="352.7" cy="417.5" r="2.7"/>
<circle cx="360.5" cy="468.1" r="2.7"/>
<circle cx="360.3" cy="508.9" r="2.7"/>
<circle cx="374.3" cy="389.3" r="2.7"/>
<circle cx="373.1" cy="406.2" r="2.7"/>
<circle cx="377.1" cy="420" r="2.7"/>
<circle cx="383.8" cy="382.9" r="2.7"/>
<circle cx="398.8" cy="381.4" r="2.7"/>
<circle cx="388.6" cy="393.8" r="2.7"/>
<circle cx="400.6" cy="422.7" r="2.7"/>
<circle cx="421.3" cy="419.8" r="2.7"/>
<circle cx="402.3" cy="429.4" r="2.7"/>
<circle cx="404.9" cy="432.7" r="2.7"/>
<circle cx="392.5" cy="447.8" r="2.7"/>
<circle cx="368.9" cy="453.2" r="2.7"/>
<circle cx="412.3" cy="457" r="2.7"/>
<circle cx="396.2" cy="459" r="2.7"/>
<circle cx="415.4" cy="463.4" r="2.7"/>
<circle cx="426.8" cy="462.8" r="2.7"/>
<circle cx="381.4" cy="468.2" r="2.7"/>
<circle cx="390.1" cy="470" r="2.7"/>
<circle cx="388.6" cy="473.2" r="2.7"/>
<circle cx="394.7" cy="475.2" r="2.7"/>
<circle cx="405.6" cy="471.5" r="2.7"/>
<circle cx="397.3" cy="481.3" r="2.7"/>
<circle cx="406" cy="481.6" r="2.7"/>
<circle cx="410.1" cy="480.6" r="2.7"/>
<circle cx="413.5" cy="481" r="2.7"/>
<circle cx="408.6" cy="484.2" r="2.7"/>
<circle cx="401.2" cy="491.1" r="2.7"/>
<circle cx="411.1" cy="491.1" r="2.7"/>
<circle cx="374.4" cy="495.1" r="2.7"/>
<circle cx="376.6" cy="498.8" r="2.7"/>
<circle cx="412.6" cy="504.2" r="2.7"/>
<circle cx="389.2" cy="508.9" r="2.7"/>
<circle cx="394" cy="508.9" r="2.7"/>
<circle cx="397.3" cy="508.9" r="2.7"/>
<circle cx="408.2" cy="508.9" r="2.7"/>
<circle cx="429" cy="508.9" r="2.7"/>
<circle cx="431.6" cy="508.9" r="2.7"/>
</g>
<text x="72.4" y="57.8" class="sa" font-size="17.5" fill="#111">10<tspan font-size="12" dy="-10" dx="0.8">1</tspan></text>
<text x="72.4" y="148.3" class="sa" font-size="17.5" fill="#111">10<tspan font-size="12" dy="-10" dx="0.8">0</tspan></text>
<text x="64.5" y="239.1" class="sa" font-size="17.5" fill="#111">10<tspan font-size="12" dy="-10" dx="0.8">−1</tspan></text>
<text x="72.4" y="342.4" class="sa" font-size="17.5" fill="#111">10<tspan font-size="12" dy="-10" dx="0.8">2</tspan></text>
<text x="72.4" y="459.4" class="sa" font-size="17.5" fill="#111">10<tspan font-size="12" dy="-10" dx="0.8">0</tspan></text>
<text x="109.9" y="534" class="sa" font-size="17.5" fill="#111">10<tspan font-size="12" dy="-10" dx="0.8">1</tspan></text>
<text x="210.1" y="534" class="sa" font-size="17.5" fill="#111">10<tspan font-size="12" dy="-10" dx="0.8">2</tspan></text>
<text x="310.3" y="534" class="sa" font-size="17.5" fill="#111">10<tspan font-size="12" dy="-10" dx="0.8">3</tspan></text>
<text x="410.5" y="534" class="sa" font-size="17.5" fill="#111">10<tspan font-size="12" dy="-10" dx="-0.3">4</tspan></text>
<text x="264.8" y="70.9" class="sa" font-size="17.4" fill="#000">10km</text>
<text x="354.9" y="101.3" class="sa" font-size="17.4" fill="#0000ff">1000km</text>
<text x="381.0" y="161.9" class="sa" font-size="17.4" fill="#ff0000">100km</text>
<text x="169.6" y="91.7" class="sa" font-size="17.4" fill="#00f400">0.1km</text>
<text transform="translate(194.4,36.8) rotate(58.6)" class="sa" font-size="17.4" fill="#00f6ff">1km</text>
<text x="168.5" y="317.4" class="sa" font-size="17.4" fill="#00f400">0.1km</text>
<text transform="translate(234.9,331.3) rotate(33.5)" class="sa" font-size="17.4" fill="#00f6ff">1km</text>
<text x="350.6" y="322.7" class="sa" font-size="17.4" fill="#ff0000">100km</text>
<text x="174.5" y="432.8" class="sa" font-size="17.4" fill="#0000ff">1000km</text>
<text x="194.0" y="493.5" class="sa" font-size="17.4" fill="#000">10km</text>
<g class="se" fill="#111" font-size="20.3"><text x="400.2" y="30.5">24</text><text x="421.5" y="30.5" font-style="italic" textLength="12.6" lengthAdjust="spacingAndGlyphs">μ</text><text x="434.2" y="30.5" textLength="17.4" lengthAdjust="spacingAndGlyphs">m</text></g>
<g class="se" fill="#111" font-size="20.3"><text x="400.2" y="282.5">70</text><text x="421.5" y="282.5" font-style="italic" textLength="12.6" lengthAdjust="spacingAndGlyphs">μ</text><text x="434.2" y="282.5" textLength="17.4" lengthAdjust="spacingAndGlyphs">m</text></g>
<text x="214.3" y="564.4" class="se" font-size="26.4" fill="#111">Age [Myr]</text>
<g transform="translate(23.1,195.6) rotate(-90)" class="se" fill="#111"><text x="0" y="0" font-size="27.5" font-style="italic">F</text><text x="14.9" y="6.8" font-size="19.4">disk</text><text x="45.6" y="6.8" font-size="19.4">,</text><text x="51.6" y="6.8" font-size="20" font-style="italic" textLength="9.6" lengthAdjust="spacingAndGlyphs">ν</text><text x="67.3" y="0" font-size="27.5" font-style="italic" stroke="#111" stroke-width="0.6">/</text><text x="81.9" y="0" font-size="27.5" font-style="italic">F</text><text x="98.2" y="7.5" font-size="20">*</text><text x="105.2" y="6.8" font-size="20">,</text><text x="112.2" y="6.8" font-size="20" font-style="italic" textLength="9.6" lengthAdjust="spacingAndGlyphs">ν</text></g>
<g transform="translate(23.1,447.2) rotate(-90)" class="se" fill="#111"><text x="0" y="0" font-size="27.5" font-style="italic">F</text><text x="14.9" y="6.8" font-size="19.4">disk</text><text x="45.6" y="6.8" font-size="19.4">,</text><text x="51.6" y="6.8" font-size="20" font-style="italic" textLength="9.6" lengthAdjust="spacingAndGlyphs">ν</text><text x="67.3" y="0" font-size="27.5" font-style="italic" stroke="#111" stroke-width="0.6">/</text><text x="81.9" y="0" font-size="27.5" font-style="italic">F</text><text x="98.2" y="7.5" font-size="20">*</text><text x="105.2" y="6.8" font-size="20">,</text><text x="112.2" y="6.8" font-size="20" font-style="italic" textLength="9.6" lengthAdjust="spacingAndGlyphs">ν</text></g>
</svg>
</body></html>
